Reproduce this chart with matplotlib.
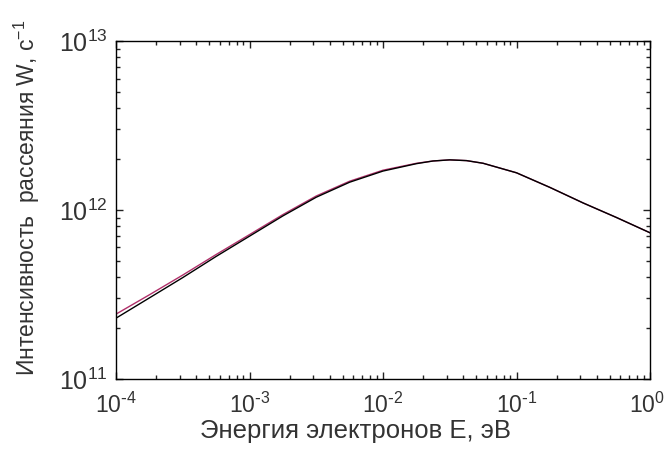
import matplotlib
matplotlib.use('Agg')
import matplotlib.pyplot as plt
import matplotlib.transforms as mtransforms
from matplotlib.ticker import FixedLocator, FixedFormatter

# energy of electrons, eV
energy = [1e-4, 1.78e-4, 3.16e-4, 5.62e-4, 1e-3, 1.78e-3, 3.16e-3, 5.62e-3,
          1e-2, 1.78e-2, 2.37e-2, 3.16e-2, 4.22e-2, 5.62e-2, 1e-1, 1.78e-1,
          3.16e-1, 5.62e-1, 1.0]

# scattering intensity, 1/s
w_black = [2.29e11, 3.02e11, 3.98e11, 5.31e11, 7.0e11, 9.23e11, 1.19e12, 1.46e12,
           1.70e12, 1.88e12, 1.95e12, 1.98e12, 1.96e12, 1.89e12, 1.66e12, 1.36e12,
           1.10e12, 9.02e11, 7.33e11]
w_red = [2.42e11, 3.15e11, 4.12e11, 5.45e11, 7.15e11, 9.4e11, 1.21e12, 1.48e12,
         1.72e12, 1.89e12, 1.95e12, 1.98e12, 1.96e12, 1.89e12, 1.66e12, 1.36e12,
         1.10e12, 9.02e11, 7.33e11]

x_ticks = [1e-4, 1e-3, 1e-2, 1e-1, 1]
x_ticklabels = [r'$10^{\text{-}4}$', r'$10^{\text{-}3}$', r'$10^{\text{-}2}$',
                r'$10^{\text{-}1}$', r'$10^{0}$']
y_ticks = [1e11, 1e12, 1e13]
y_ticklabels = [r'$10^{11}$', r'$10^{12}$', r'$10^{13}$']

plt.rcParams['font.family'] = ['Liberation Sans', 'DejaVu Sans']
plt.rcParams['mathtext.fontset'] = 'custom'
plt.rcParams['mathtext.rm'] = 'Liberation Sans Narrow'
plt.rcParams['mathtext.it'] = 'Liberation Sans Narrow:italic'
plt.rcParams['mathtext.bf'] = 'Liberation Sans Narrow:bold'
plt.rcParams['mathtext.default'] = 'regular'

fig = plt.figure(figsize=(6.67, 4.61), dpi=100)
ax = fig.add_axes([0.174, 0.178, 0.8005, 0.733])

ax.plot(energy, w_red, color='#b0306a', lw=1.0)
ax.plot(energy, w_black, color='black', lw=1.0)

ax.set_xscale('log')
ax.set_yscale('log')
ax.set_xlim(1e-4, 1)
ax.set_ylim(1e11, 1e13)
ax.xaxis.set_major_locator(FixedLocator(x_ticks))
ax.xaxis.set_major_formatter(FixedFormatter(x_ticklabels))
ax.yaxis.set_major_locator(FixedLocator(y_ticks))
ax.yaxis.set_major_formatter(FixedFormatter(y_ticklabels))

ax.tick_params(which='both', direction='in', top=True, right=True,
               colors='#222222', labelcolor='#333333')
ax.tick_params(which='major', length=5, width=1)
ax.tick_params(which='minor', length=3, width=1)
ax.tick_params(axis='x', which='major', pad=10, labelsize=16.5)
ax.tick_params(axis='y', which='major', pad=6, labelsize=18)
for s in ax.spines.values():
    s.set_linewidth(1.0)

# keep the last x label inside the figure
fig.canvas.draw()
last = ax.get_xticklabels()[-1]
last.set_transform(last.get_transform() +
                   mtransforms.ScaledTranslation(-3 / 100, 0, fig.dpi_scale_trans))

ax.set_xlabel('Энергия электронов Е, эВ', fontsize=18.5, color='#333333')
ax.set_ylabel('Интенсивность  рассеяния W, с$^{-1}$', fontsize=16.5, color='#333333')
ax.xaxis.set_label_coords(0.448, -0.12)
ax.yaxis.set_label_coords(-0.138, 0.535)

fig.savefig('out.png', dpi=100)
